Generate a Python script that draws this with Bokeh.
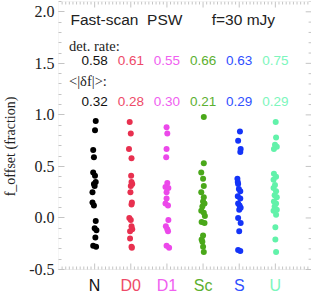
from bokeh.plotting import figure
from bokeh.models import (ColumnDataSource, LinearAxis, FixedTicker, Range1d,
                          CustomJSTickFormatter, BoxAnnotation)
from bokeh.core.properties import value
from bokeh.embed import file_html
from bokeh.resources import INLINE

categories = ["N", "D0", "D1", "Sc", "S", "U"]
colors = ["#000000", "#e8304f", "#ec48ea", "#4aa81a", "#1434f8", "#62f2aa"]
text_colors = ["#111111", "#ee4a68", "#f060f0", "#5cb030", "#3050ff", "#7cf6bc"]
det_rate = ["0.58", "0.61", "0.55", "0.66", "0.63", "0.75"]
mean_abs_df = ["0.32", "0.28", "0.30", "0.21", "0.29", "0.29"]

vals_N = [0.94, 0.85, 0.66, 0.59, 0.44, 0.41, 0.35, 0.33, 0.31, 0.25, 0.15, 0.12,
          -0.03, -0.10, -0.12, -0.19, -0.27, -0.28]
jit_N = [0.03, 0.01, -0.04, -0.02, -0.04, 0.01, 0.03, -0.02, 0.0, -0.06, -0.06, -0.02,
         0.03, 0.0, 0.05, 0.02, -0.04, 0.04]
vals_D0 = [0.93, 0.82, 0.67, 0.58, 0.41, 0.35, 0.33, 0.31, 0.25, 0.15, 0.13, 0.00,
           -0.02, -0.08, -0.11, -0.13, -0.20, -0.28, -0.29]
jit_D0 = [-0.03, 0.0, -0.05, 0.02, 0.01, 0.02, 0.04, 0.0, -0.01, 0.03, 0.02, -0.04,
          0.0, 0.02, 0.04, -0.02, -0.02, 0.02, 0.03]
vals_D1 = [0.88, 0.82, 0.67, 0.59, 0.34, 0.30, 0.29, 0.25, 0.19, 0.14, 0.12, -0.02,
           -0.08, -0.11, -0.13, -0.27, -0.29]
jit_D1 = [-0.01, 0.01, -0.01, -0.02, 0.01, -0.04, 0.04, -0.01, -0.01, -0.04, 0.03, 0.04,
          -0.03, 0.01, 0.03, -0.01, 0.06]
vals_Sc = [0.98, 0.53, 0.44, 0.38, 0.31, 0.25, 0.20, 0.16, 0.14, 0.11, 0.07, 0.05,
           0.02, -0.04, -0.05, -0.17, -0.21, -0.23, -0.28, -0.33]
jit_Sc = [0.02, 0.02, -0.05, 0.0, 0.02, -0.05, 0.02, 0.0, 0.04, -0.02, -0.05, 0.02,
          0.05, -0.04, 0.04, 0.0, -0.04, -0.02, 0.0, 0.02]
vals_S = [0.84, 0.75, 0.67, 0.64, 0.38, 0.35, 0.33, 0.28, 0.26, 0.21, 0.19, 0.14,
          0.12, 0.10, 0.08, 0.00, -0.05, -0.13, -0.31, -0.32]
jit_S = [0.02, -0.03, 0.04, 0.03, -0.05, -0.04, -0.03, -0.01, 0.03, -0.04, 0.03, -0.03,
         0.01, 0.04, 0.0, -0.03, 0.04, 0.0, -0.03, 0.03]
vals_U = [0.93, 0.78, 0.71, 0.69, 0.67, 0.43, 0.40, 0.37, 0.32, 0.29, 0.26, 0.22,
          0.20, 0.16, 0.14, 0.11, 0.08, 0.07, 0.03, -0.09, -0.21, -0.33]
jit_U = [0.01, 0.02, -0.01, 0.04, -0.04, -0.04, 0.02, -0.05, -0.01, -0.05, 0.02, -0.02,
         0.04, -0.04, 0.02, -0.02, 0.04, -0.05, 0.02, 0.0, 0.0, 0.02]

series = [(vals_N, jit_N), (vals_D0, jit_D0), (vals_D1, jit_D1),
          (vals_Sc, jit_Sc), (vals_S, jit_S), (vals_U, jit_U)]

x_ticks = [1, 2, 3, 4, 5, 6]
y_ticks = [-0.5, 0.0, 0.5, 1.0, 1.5, 2.0]

frame_gray = "#c4c4c4"
serif = "Liberation Serif"
sans = "Liberation Sans"

# layout geometry
W, H = 311, 291
B_LEFT, B_RIGHT, B_TOP, B_BOTTOM = 50, 0, 1, 0
X0, X1 = 0.0, 7.0
Y0, Y1 = -0.5, 2.1          # visible box
box_px = 268                # pixel height of the visible box
frame_w = W - B_LEFT - B_RIGHT
frame_h = H - B_TOP - B_BOTTOM
ppu_y = box_px / (Y1 - Y0)
ppu_x = frame_w / (X1 - X0)
y_start = Y1 - frame_h / ppu_y   # frame extends below the box for category names

p = figure(width=W, height=H, output_backend="svg", toolbar_location=None,
           x_range=Range1d(X0, X1), y_range=Range1d(y_start, Y1),
           x_axis_location=None, y_axis_location=None,
           min_border_left=B_LEFT, min_border_right=B_RIGHT,
           min_border_top=B_TOP, min_border_bottom=B_BOTTOM)
p.grid.visible = False
p.outline_line_color = None
p.border_fill_color = "white"

yt = FixedTicker(ticks=y_ticks, minor_ticks=[round(Y0 + i / 10, 2) for i in range(0, 27)])
left = LinearAxis(ticker=yt, axis_label="f_offset (fraction)")
left.axis_line_color = None
left.major_tick_line_color = frame_gray
left.minor_tick_line_color = frame_gray
left.major_tick_in = 6
left.major_tick_out = 0
left.minor_tick_in = 3
left.minor_tick_out = 0
left.major_label_text_font = serif
left.major_label_text_font_size = "16px"
left.major_label_text_color = "#222222"
left.major_label_standoff = 4
left.axis_label_text_font = serif
left.axis_label_text_font_size = "14px"
left.axis_label_text_font_style = "normal"
left.axis_label_text_color = "#222222"
left.axis_label_standoff = 8
left.formatter = CustomJSTickFormatter(code="return tick.toFixed(1);")
p.add_layout(left, "left")

# visible plot box
p.add_layout(BoxAnnotation(left=X0, right=X1, bottom=Y0, top=Y1, fill_alpha=0,
                           line_color=frame_gray, line_width=1, level="underlay"))

# tick marks on bottom / top (x) and right (y)
x_minor = [i / 10 for i in range(1, 70) if i % 10 != 0]
y_minor = [v for v in yt.minor_ticks if v not in y_ticks]
lx_major, lx_minor = 6 / ppu_y, 3 / ppu_y
ly_major, ly_minor = 6 / ppu_x, 3 / ppu_x
segs = dict(x0=[], y0=[], x1=[], y1=[])
for xs, L in ((x_ticks, lx_major), (x_minor, lx_minor)):
    for x in xs:
        segs["x0"] += [x, x]
        segs["x1"] += [x, x]
        segs["y0"] += [Y0, Y1]
        segs["y1"] += [Y0 + L, Y1 - L]
for ys, L in ((y_ticks, ly_major), (y_minor, ly_minor)):
    for y in ys:
        segs["x0"].append(X1)
        segs["x1"].append(X1 - L)
        segs["y0"].append(y)
        segs["y1"].append(y)
p.segment("x0", "y0", "x1", "y1", source=ColumnDataSource(segs),
          line_color=frame_gray, line_width=1, level="underlay")

for i, (vals, jit) in enumerate(series):
    src = ColumnDataSource(dict(x=[i + 1 + j for j in jit], y=vals))
    p.scatter("x", "y", source=src, size=6, color=colors[i], line_color=None)

# header texts
p.text(x=[0.33], y=[1.93], text=["Fast-scan\u00a0\u00a0PSW"], text_font=value(sans),
       text_font_size="15.5px", text_baseline="middle", text_color="#222222")
p.text(x=[4.24], y=[1.93], text=["f=30 mJy"], text_font=value(sans),
       text_font_size="15.5px", text_baseline="middle", text_color="#222222")
p.text(x=[0.29], y=[1.67], text=["det. rate:"], text_font=value(serif),
       text_font_size="14.5px", text_baseline="middle", text_color="#222222")
p.text(x=[0.29], y=[1.33], text=["<|\u03b4f|>:"], text_font=value(serif),
       text_font_size="14.5px", text_baseline="middle", text_color="#222222")

p.text(x=x_ticks, y=[1.53] * 6, text=det_rate, text_color=text_colors,
       text_font=value(sans), text_font_size="13.5px", text_align="center",
       text_baseline="middle")
p.text(x=x_ticks, y=[1.13] * 6, text=mean_abs_df, text_color=text_colors,
       text_font=value(sans), text_font_size="13.5px", text_align="center",
       text_baseline="middle")

# category names below the box
p.text(x=x_ticks, y=[y_start + 6.0 / ppu_y] * 6, text=categories, text_color=text_colors,
       text_font=value(sans), text_font_size="16px", text_align="center",
       text_baseline="alphabetic")

open("out.html", "w").write(file_html(p, INLINE))
